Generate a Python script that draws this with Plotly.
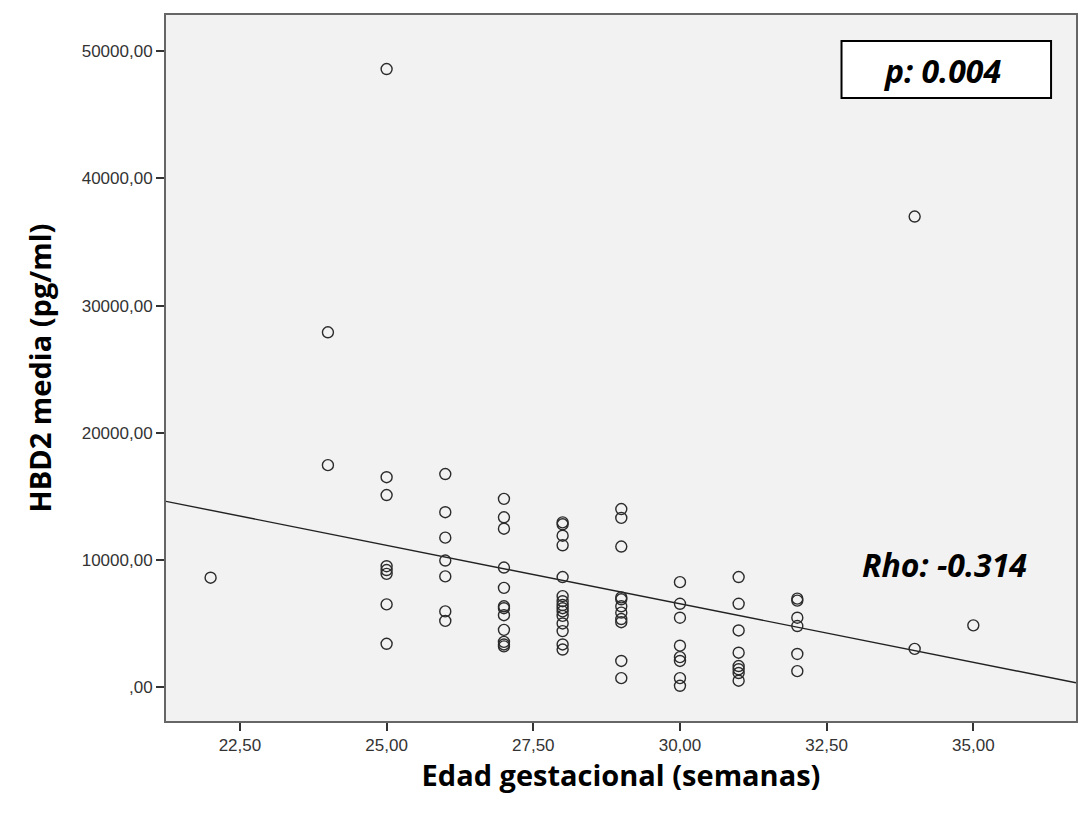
import numpy as np
import plotly.graph_objects as go

# Gestational age (weeks) and mean HBD2 (pg/ml)
edad = (
    [22]
    + [24] * 2
    + [25] * 8
    + [26] * 7
    + [27] * 12
    + [28] * 15
    + [29] * 11
    + [30] * 8
    + [31] * 8
    + [32] * 6
    + [34] * 2
    + [35]
)
hbd2 = (
    [8600]
    + [27900, 17450]
    + [48600, 16500, 15100, 9500, 9200, 8900, 6500, 3400]
    + [16750, 13750, 11750, 9950, 8700, 5950, 5200]
    + [14800, 13350, 12450, 9400, 7800, 6350, 6200, 5650, 4500, 3550, 3350, 3200]
    + [12950, 12800, 11900, 11150, 8650, 7150, 6750, 6450, 6200, 5950, 5600, 5000, 4400, 3350, 2950]
    + [14000, 13300, 11050, 7050, 6900, 6350, 5850, 5350, 5100, 2050, 700]
    + [8250, 6550, 5450, 3250, 2350, 2050, 700, 100]
    + [8650, 6550, 4450, 2700, 1650, 1400, 1100, 500]
    + [6950, 6800, 5450, 4800, 2600, 1250]
    + [37000, 3000]
    + [4850]
)

x_ticks = [22.5, 25.0, 27.5, 30.0, 32.5, 35.0]
x_tick_labels = ["22,50", "25,00", "27,50", "30,00", "32,50", "35,00"]
y_ticks = [0, 10000, 20000, 30000, 40000, 50000]
y_tick_labels = [",00", "10000,00", "20000,00", "30000,00", "40000,00", "50000,00"]

x_range = [21.24, 36.75]
y_range = [-2670, 52850]

slope, intercept = np.polyfit(np.array(edad, float), np.array(hbd2, float), 1)
fit_x = np.array(x_range)
fit_y = intercept + slope * fit_x

fig = go.Figure()
fig.add_trace(go.Scatter(
    x=fit_x, y=fit_y, mode="lines",
    line=dict(color="#222222", width=1.4),
    hoverinfo="skip", showlegend=False,
))
fig.add_trace(go.Scatter(
    x=edad, y=hbd2, mode="markers",
    marker=dict(symbol="circle-open", size=11, color="#2b2b2b",
                line=dict(width=1.4, color="#2b2b2b")),
    showlegend=False,
))

title_font = dict(family="Open Sans", size=29, color="#000000", weight="bold")
axis_common = dict(
    showgrid=False, zeroline=False, showline=True, mirror=True,
    linecolor="#666666", linewidth=2, ticks="outside", ticklen=8,
    tickcolor="#333333", tickwidth=2,
    tickfont=dict(family="Liberation Sans, Arial", size=17, color="#333333"),
)
fig.update_xaxes(
    range=x_range, tickvals=x_ticks, ticktext=x_tick_labels,
    title=dict(text="Edad gestacional (semanas)", standoff=10, font=title_font),
    **axis_common,
)
fig.update_yaxes(
    range=y_range, tickvals=y_ticks, ticktext=y_tick_labels,
    title=dict(text="HBD2 media (pg/ml)", standoff=22, font=title_font),
    **axis_common,
)

fig.add_shape(type="rect", xref="paper", yref="paper",
              x0=(843 - 166) / 912, x1=(1053 - 166) / 912,
              y0=(721 - 98) / 706, y1=(721 - 41) / 706,
              fillcolor="white", line=dict(color="black", width=2), layer="above")
fig.add_annotation(text="<b><i>p: 0.004</i></b>", xref="paper", yref="paper",
                   x=(944 - 166) / 912, y=(721 - 70) / 706, showarrow=False,
                   xanchor="center", yanchor="middle",
                   font=dict(family="Open Sans", size=32, color="black"))
fig.add_annotation(text="<b><i>Rho: -0.314</i></b>", xref="paper", yref="paper",
                   x=(946 - 166) / 912, y=(721 - 564) / 706, showarrow=False,
                   xanchor="center", yanchor="middle",
                   font=dict(family="Open Sans", size=32, color="black"))

fig.update_layout(
    width=1081, height=816,
    margin=dict(l=166, r=3, t=15, b=95),
    plot_bgcolor="#f2f2f2", paper_bgcolor="white",
    showlegend=False,
)

fig.write_html("out.html")
